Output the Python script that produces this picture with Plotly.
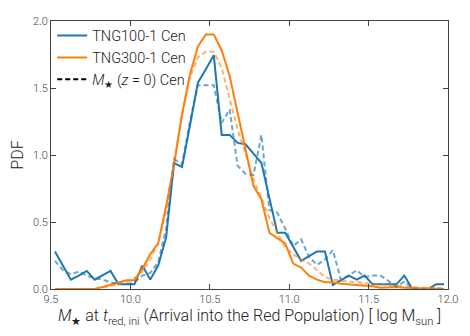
import plotly.graph_objects as go

bin_centers = [9.525, 9.575, 9.625, 9.675, 9.725, 9.775, 9.825, 9.875, 9.925, 9.975,
               10.025, 10.075, 10.125, 10.175, 10.225, 10.275, 10.325, 10.375, 10.425, 10.475,
               10.525, 10.575, 10.625, 10.675, 10.725, 10.775, 10.825, 10.875, 10.925, 10.975,
               11.025, 11.075, 11.125, 11.175, 11.225, 11.275, 11.325, 11.375, 11.425, 11.475,
               11.525, 11.575, 11.625, 11.675, 11.725, 11.775, 11.825, 11.875, 11.925, 11.975]

tng100_tred = [0.28, 0.175, 0.07, 0.10, 0.135, 0.07, 0.10, 0.135, 0.035, 0.035,
               0.035, 0.175, 0.07, 0.175, 0.385, 0.94, 0.91, 1.22, 1.54, 1.64,
               1.745, 1.15, 1.15, 1.09, 1.08, 1.01, 0.94, 0.68, 0.42, 0.42,
               0.32, 0.21, 0.245, 0.28, 0.28, 0.03, 0.065, 0.10, 0.07, 0.10,
               0.035, 0.035, 0.035, 0.035, 0.10, 0.0, 0.0, 0.0, 0.035, 0.035]

tng100_z0 = [0.21, 0.14, 0.11, 0.13, 0.10, 0.08, 0.07, 0.05, 0.04, 0.035,
             0.05, 0.10, 0.12, 0.20, 0.45, 0.97, 0.93, 1.25, 1.52, 1.52,
             1.52, 1.24, 1.34, 0.92, 0.86, 0.85, 1.15, 0.59, 0.57, 0.45,
             0.32, 0.37, 0.24, 0.18, 0.22, 0.29, 0.07, 0.10, 0.14, 0.09,
             0.10, 0.10, 0.06, 0.02, 0.055, 0.01, 0.0, 0.0, 0.0, 0.0]

tng300_tred = [0.0, 0.0, 0.0, 0.0, 0.0, 0.0, 0.015, 0.03, 0.045, 0.065,
               0.065, 0.15, 0.26, 0.34, 0.62, 0.93, 1.30, 1.60, 1.81, 1.90,
               1.90, 1.78, 1.59, 1.31, 1.05, 0.77, 0.67, 0.42, 0.38, 0.34,
               0.19, 0.16, 0.10, 0.07, 0.05, 0.05, 0.04, 0.035, 0.03, 0.03,
               0.02, 0.01, 0.015, 0.015, 0.01, 0.005, 0.005, 0.005, 0.0, 0.0]

tng300_z0 = [0.0, 0.0, 0.0, 0.0, 0.0, 0.0, 0.01, 0.02, 0.035, 0.05,
             0.08, 0.13, 0.22, 0.34, 0.58, 0.95, 1.30, 1.58, 1.73, 1.77,
             1.77, 1.65, 1.41, 1.19, 1.01, 0.82, 0.68, 0.53, 0.42, 0.31,
             0.26, 0.22, 0.19, 0.14, 0.09, 0.07, 0.06, 0.055, 0.05, 0.045,
             0.04, 0.03, 0.025, 0.02, 0.015, 0.01, 0.01, 0.01, 0.005, 0.005]

x_ticks = [9.5, 10.0, 10.5, 11.0, 11.5, 12.0]
x_ticklabels = ["9.5", "10.0", "10.5", "11.0", "11.5", "12.0"]
y_ticks = [0.0, 0.5, 1.0, 1.5, 2.0]
y_ticklabels = ["0.0", "0.5", "1.0", "1.5", "2.0"]

BLUE = "#1f77b4"
ORANGE = "#ff7f0e"
FONT = "Roboto"
W = 300

fig = go.Figure()
fig.add_trace(go.Scatter(x=bin_centers, y=tng100_tred, mode="lines", name="TNG100-1 Cen",
                         line=dict(color=BLUE, width=2)))
fig.add_trace(go.Scatter(x=bin_centers, y=tng300_tred, mode="lines", name="TNG300-1 Cen",
                         line=dict(color=ORANGE, width=2)))
fig.add_trace(go.Scatter(x=bin_centers, y=tng100_z0, mode="lines", showlegend=False,
                         line=dict(color="rgba(31,119,180,0.65)", width=2, dash="5px,3px")))
fig.add_trace(go.Scatter(x=bin_centers, y=tng300_z0, mode="lines", showlegend=False,
                         line=dict(color="rgba(255,127,14,0.6)", width=2, dash="5px,3px")))
fig.add_trace(go.Scatter(x=[None], y=[None], mode="lines",
                         name="<i>M</i><sub>★</sub> (<i>z</i> = 0) Cen",
                         line=dict(color="black", width=2, dash="5px,3px")))

axis_common = dict(showline=True, linecolor="#444", linewidth=1, mirror="ticks",
                   ticks="inside", ticklen=5, tickcolor="#444", showgrid=False, zeroline=False,
                   tickfont=dict(family=FONT, size=11, color="#444", weight=W))

fig.update_xaxes(range=[9.5, 12.0], tickvals=x_ticks, ticktext=x_ticklabels,
                 title=dict(text="<i>M</i><sub>★</sub> at <i>t</i><sub>red, ini</sub> (Arrival into the Red Population) [ log M<sub>sun</sub> ]",
                            font=dict(family=FONT, size=16, color="#222", weight=W), standoff=3),
                 **axis_common)
fig.update_yaxes(range=[0, 2.0], tickvals=y_ticks, ticktext=y_ticklabels,
                 title=dict(text="PDF", font=dict(family=FONT, size=16, color="#222", weight=W), standoff=7),
                 **axis_common)

# the page body has an 8px margin, so the figure is shrunk by 8px and margins offset
fig.update_layout(
    width=462, height=328,
    margin=dict(l=40, r=22, t=7, b=47),
    plot_bgcolor="white", paper_bgcolor="white",
    font=dict(family=FONT, color="#222", weight=W),
    legend=dict(x=0.003, y=1.005, xanchor="left", yanchor="top", bgcolor="rgba(0,0,0,0)",
                font=dict(family=FONT, size=14.5, color="#222", weight=W),
                tracegroupgap=0, itemwidth=30),
)

fig.write_html("out.html")
